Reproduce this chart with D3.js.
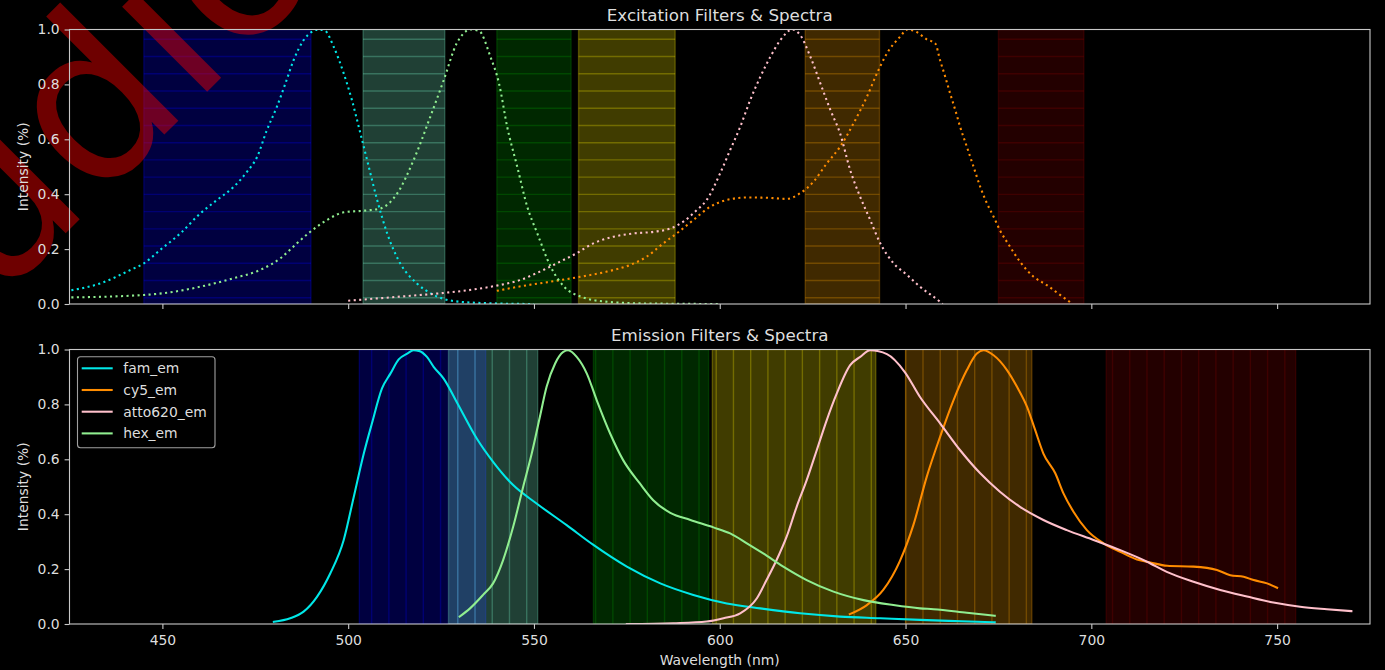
<!DOCTYPE html>
<html><head><meta charset="utf-8">
<script src="https://cdn.jsdelivr.net/npm/d3@7"></script>
<style>html,body{margin:0;padding:0;background:#000;}svg{display:block;}</style>
</head><body>
<svg id="chart" width="1385" height="670"></svg>
<script>
// ---------- DATA ----------
const xDomain = [425, 775];
const xTicks = [450, 500, 550, 600, 650, 700, 750];
const yTicks = [0, 0.2, 0.4, 0.6, 0.8, 1.0];
const yTickLabels = ["0.0", "0.2", "0.4", "0.6", "0.8", "1.0"];

const titles = ["Excitation Filters & Spectra", "Emission Filters & Spectra"];
const xLabel = "Wavelength (nm)";
const yLabel = "Intensity (%)";
const watermark = "Studio";

// filter bands (nm)
const exFilterLo = [445, 504, 540, 562, 623, 675];
const exFilterHi = [490, 526, 560, 588, 643, 698];
const emFilterLo = [503, 527, 566, 598, 650, 704];
const emFilterHi = [537, 551, 597, 642, 684, 755];

// excitation spectra [nm, intensity]
const famEx = [[425.5,0.05],[433.3,0.075],[441.4,0.124],[445,0.148],[449.4,0.197],[454.8,0.257],[460.2,0.33],[464.7,0.379],[469.2,0.427],[472.8,0.482],[475.5,0.536],[478.1,0.633],[480.8,0.718],[483.1,0.803],[485.3,0.888],[488,0.961],[490.7,0.995],[492,1.0],[493.8,0.995],[496.1,0.937],[498.8,0.84],[501,0.743],[503.3,0.621],[505.1,0.524],[507.8,0.379],[510.5,0.257],[514,0.148],[518.5,0.075],[523,0.033],[530.2,0.008],[540,0.002],[550,0.0]];
const cy5Ex = [[540,0.048],[547.1,0.066],[554.3,0.081],[562.4,0.099],[569.6,0.118],[575.8,0.142],[580.3,0.172],[584.8,0.221],[588.4,0.257],[592.9,0.306],[597.4,0.354],[601.9,0.379],[607.3,0.388],[612.6,0.387],[618,0.383],[621.6,0.403],[625.2,0.445],[628.8,0.512],[632.4,0.573],[636,0.658],[639.6,0.755],[642.3,0.84],[645,0.913],[648.5,0.973],[650.5,1.0],[653,0.991],[655.7,0.964],[658,0.949],[659.3,0.888],[660.7,0.827],[662,0.767],[663.4,0.706],[664.7,0.645],[666.5,0.573],[668.3,0.5],[670.1,0.427],[671.9,0.367],[673.7,0.318],[675.4,0.269],[678.1,0.209],[680.8,0.154],[684.4,0.1],[688,0.069],[691.6,0.033],[695,0.0]];
const atto620Ex = [[500,0.012],[514,0.027],[524.7,0.039],[533.8,0.053],[540,0.067],[546.2,0.087],[551.6,0.118],[557,0.154],[561.5,0.185],[566,0.221],[571.4,0.245],[576.8,0.257],[582.2,0.263],[586.7,0.275],[590.2,0.3],[593.8,0.342],[596.5,0.379],[600.1,0.476],[602.8,0.561],[605.5,0.645],[608.2,0.743],[610.9,0.827],[613.6,0.9],[616.3,0.961],[619.5,1.0],[621.7,0.979],[624.4,0.9],[627.1,0.803],[629.8,0.706],[632.4,0.621],[635.1,0.488],[637.8,0.39],[640.5,0.306],[643.2,0.221],[646.8,0.148],[650.4,0.106],[653.9,0.063],[659.3,0.008],[660,0.0]];
const hexEx = [[425.5,0.024],[445,0.033],[451.2,0.041],[460.2,0.063],[469.2,0.094],[476.3,0.124],[481.7,0.166],[486.2,0.221],[489.8,0.263],[494.3,0.306],[498.8,0.334],[504.2,0.34],[508.7,0.348],[513.2,0.403],[517.6,0.524],[522.1,0.682],[525.7,0.815],[529.2,0.949],[531,0.985],[532.9,1.0],[535.2,0.995],[538.3,0.9],[540.6,0.803],[542.8,0.645],[545.5,0.5],[548.2,0.354],[550.9,0.257],[554.5,0.136],[558.1,0.063],[562.6,0.027],[569.7,0.008],[580,0.002],[600,0.0]];

// emission spectra [nm, intensity]
const famEm = [[480,0.008],[484.4,0.021],[488,0.045],[491.6,0.099],[495.2,0.185],[498.8,0.306],[501.5,0.463],[504.2,0.621],[506.4,0.731],[509.1,0.858],[511.4,0.913],[513.6,0.964],[515.9,0.985],[517.6,0.997],[519,0.995],[521.2,0.973],[523,0.937],[525.7,0.894],[529.2,0.809],[534.6,0.676],[539,0.591],[544.4,0.506],[550.7,0.439],[558.8,0.36],[566,0.288],[575,0.209],[584,0.148],[592.9,0.106],[601.9,0.075],[610.9,0.057],[621.6,0.039],[632.4,0.027],[643.2,0.021],[653.9,0.015],[665,0.01],[674,0.006]];
const cy5Em = [[635,0.036],[639.6,0.069],[644,0.124],[648.5,0.23],[652.1,0.36],[655.7,0.536],[659.3,0.682],[662.9,0.815],[666.5,0.925],[669.2,0.985],[671,0.997],[673.7,0.979],[677.3,0.925],[680,0.864],[682.7,0.791],[684.9,0.706],[687.1,0.621],[690.3,0.549],[692.5,0.476],[695.2,0.409],[698.8,0.342],[703.3,0.294],[707.8,0.263],[712.3,0.235],[715.9,0.224],[720.4,0.212],[727.5,0.209],[733.8,0.197],[737.4,0.178],[741,0.172],[743.7,0.16],[747.3,0.148],[750,0.132]];
const atto620Em = [[575,0.0],[587.5,0.003],[596.5,0.009],[601,0.021],[605.5,0.039],[610,0.094],[612.6,0.16],[615.3,0.233],[618,0.318],[620.7,0.427],[623.4,0.524],[626.1,0.633],[628.8,0.743],[631.5,0.84],[635.1,0.943],[637.8,0.973],[640.5,0.997],[645,0.983],[649.8,0.918],[653.9,0.827],[659.3,0.731],[664.7,0.633],[670.1,0.549],[675.4,0.482],[680.8,0.427],[687.1,0.379],[693.4,0.342],[700.6,0.306],[707.8,0.269],[715,0.227],[720.3,0.19],[727.5,0.154],[734.7,0.124],[741.9,0.1],[749,0.078],[756.2,0.063],[763.4,0.054],[770,0.047]];
const hexEm = [[530,0.027],[532.8,0.057],[536.3,0.106],[539,0.148],[541.7,0.233],[544.4,0.354],[547.1,0.5],[549.4,0.621],[551.6,0.755],[553.4,0.864],[555.7,0.949],[557.9,0.991],[559.2,0.997],[561.5,0.973],[564.2,0.913],[566.9,0.815],[570.5,0.694],[574,0.597],[578.5,0.512],[582.1,0.451],[586.7,0.405],[592.1,0.379],[598.3,0.352],[602.8,0.33],[607.3,0.294],[611.7,0.257],[617.1,0.209],[623.4,0.16],[630.6,0.118],[638.7,0.087],[646.7,0.069],[653.9,0.057],[657.5,0.054],[666.5,0.041],[674,0.03]];

const emNames = ["fam_em", "cy5_em", "atto620_em", "hex_em"];

// ---------- STYLE ----------
const filterColors = ["#0000ff", "#7fffd4", "#00a000", "#fff000", "#ffa500", "#8b0000"];
const dyeColors = ["#00e8e8", "#ff8c00", "#ffc0cb", "#90ee90"];
const FONT = "DejaVu Sans, Liberation Sans, sans-serif";
const TXT = "#dedede";
const SPINE = "#c8c8c8";

const svg = d3.select("#chart");
svg.append("rect").attr("width", 1385).attr("height", 670).attr("fill", "#000");

const left = 69.5, right = 1370;
const x = d3.scaleLinear().domain(xDomain).range([left, right]);

const panels = [
  { top: 29.5, bottom: 304, title: titles[0], lo: exFilterLo, hi: exFilterHi,
    series: [famEx, cy5Ex, atto620Ex, hexEx], dotted: true, hatch: "h", labels: false },
  { top: 349.5, bottom: 624, title: titles[1], lo: emFilterLo, hi: emFilterHi,
    series: [famEm, cy5Em, atto620Em, hexEm], dotted: false, hatch: "v", labels: true }
];

const bandLayer = svg.append("g");
const wmLayer = svg.append("g");
const curveLayer = svg.append("g");
const axisLayer = svg.append("g");
const legendLayer = svg.append("g");

const HSP = 17.23;
const defs = svg.append("defs");

panels.forEach((p, pi) => {
  const y = d3.scaleLinear().domain([0, 1]).range([p.bottom, p.top]);
  const clipId = "clip" + pi;
  defs.append("clipPath").attr("id", clipId).append("rect")
    .attr("x", left).attr("y", p.top).attr("width", right - left).attr("height", p.bottom - p.top);

  // filter bands
  const bg = bandLayer.append("g").attr("clip-path", `url(#${clipId})`);
  p.lo.forEach((lo, i) => {
    const hi = p.hi[i];
    const c = filterColors[i];
    const x0 = x(lo), x1 = x(hi);
    bg.append("rect").attr("x", x0).attr("y", y(1)).attr("width", x1 - x0).attr("height", y(0) - y(1))
      .attr("fill", c).attr("fill-opacity", 0.25)
      .attr("stroke", c).attr("stroke-opacity", 0.25).attr("stroke-width", 1.39);
    const hg = bg.append("g").attr("stroke", c).attr("stroke-opacity", 0.27).attr("stroke-width", 1.39);
    if (p.hatch === "h") {
      const off = 39.3;
      let yy = off - Math.floor((off - y(1)) / HSP) * HSP;
      for (; yy <= y(0); yy += HSP) {
        hg.append("line").attr("x1", x0).attr("x2", x1).attr("y1", yy).attr("y2", yy);
      }
    } else {
      const off = 9.8;
      let xx = off + Math.ceil((x0 - off) / HSP) * HSP;
      for (; xx <= x1; xx += HSP) {
        hg.append("line").attr("x1", xx).attr("x2", xx).attr("y1", y(1)).attr("y2", y(0));
      }
    }
  });

  // curves
  const line = d3.line().x(d => x(d[0])).y(d => y(d[1])).curve(d3.curveMonotoneX);
  const cg = curveLayer.append("g").attr("clip-path", `url(#${clipId})`);
  p.series.forEach((s, si) => {
    const path = cg.append("path").datum(s).attr("d", line)
      .attr("fill", "none").attr("stroke", dyeColors[si]).attr("stroke-width", 2.08);
    if (p.dotted) path.attr("stroke-dasharray", "2.08,3.44");
    else path.attr("stroke-linejoin", "round").attr("stroke-linecap", "square");
  });

  // axes
  const xa = axisLayer.append("g").attr("transform", `translate(0,${p.bottom})`)
    .call(d3.axisBottom(x).tickValues(xTicks).tickSize(4.9).tickPadding(6.3)
      .tickFormat(p.labels ? d3.format("d") : () => ""));
  const ya = axisLayer.append("g").attr("transform", `translate(${left},0)`)
    .call(d3.axisLeft(y).tickValues(yTicks).tickSize(4.9).tickPadding(4.9)
      .tickFormat((d, i) => yTickLabels[i]));
  [xa, ya].forEach(a => {
    a.select(".domain").remove();
    a.selectAll(".tick line").attr("stroke", SPINE).attr("stroke-width", 1.1);
    a.selectAll(".tick text").attr("fill", TXT).attr("font-family", FONT).attr("font-size", "13.9px");
  });

  axisLayer.append("rect").attr("x", left).attr("y", p.top).attr("width", right - left)
    .attr("height", p.bottom - p.top).attr("fill", "none").attr("stroke", SPINE).attr("stroke-width", 1.1);

  axisLayer.append("text").attr("x", (left + right) / 2).attr("y", p.top - 9)
    .attr("text-anchor", "middle").attr("fill", TXT).attr("font-family", FONT)
    .attr("font-size", "16.7px").text(p.title);

  axisLayer.append("text")
    .attr("transform", `translate(27.5,${(p.top + p.bottom) / 2}) rotate(-90)`)
    .attr("text-anchor", "middle").attr("fill", TXT).attr("font-family", FONT)
    .attr("font-size", "13.9px").text(yLabel);

  if (pi === 1) {
    axisLayer.append("text").attr("x", (left + right) / 2).attr("y", 665)
      .attr("text-anchor", "middle").attr("fill", TXT).attr("font-family", FONT)
      .attr("font-size", "13.9px").text(xLabel);

    // legend
    const lg = legendLayer.append("g");
    lg.append("rect").attr("x", 77.5).attr("y", 356.7).attr("width", 137.5).attr("height", 91)
      .attr("rx", 3).attr("fill", "#000").attr("fill-opacity", 0.8)
      .attr("stroke", "#a0a0a0").attr("stroke-width", 1.1);
    emNames.forEach((n, i) => {
      const yy = 368.3 + i * 21.7;
      lg.append("line").attr("x1", 81.7).attr("x2", 112.7).attr("y1", yy).attr("y2", yy)
        .attr("stroke", dyeColors[i]).attr("stroke-width", 2.08);
      lg.append("text").attr("x", 123.3).attr("y", yy + 5).attr("fill", TXT)
        .attr("font-family", FONT).attr("font-size", "13.9px").text(n);
    });
  }
});

// watermark (partly outside the page, as in the reference)
wmLayer.append("text")
  .attr("transform", "translate(331,-32) rotate(-45)")
  .attr("text-anchor", "end").attr("font-family", FONT).attr("font-size", "220px")
  .attr("fill", "#ff0000").attr("fill-opacity", 0.43).text(watermark);
</script>
</body></html>
